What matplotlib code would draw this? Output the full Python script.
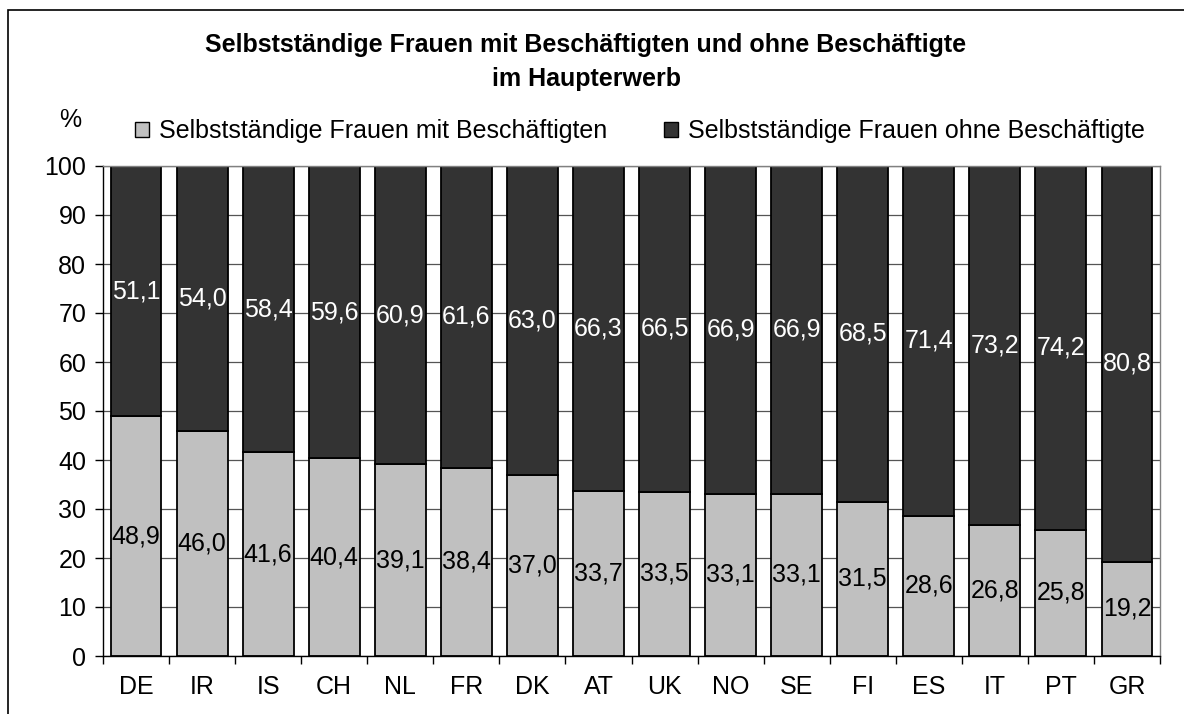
import matplotlib.pyplot as plt
from matplotlib.patches import Rectangle, Patch

plt.rcParams['font.family'] = ['Liberation Sans', 'DejaVu Sans']

countries = ["DE", "IR", "IS", "CH", "NL", "FR", "DK", "AT",
             "UK", "NO", "SE", "FI", "ES", "IT", "PT", "GR"]
mit = [48.9, 46.0, 41.6, 40.4, 39.1, 38.4, 37.0, 33.7,
       33.5, 33.1, 33.1, 31.5, 28.6, 26.8, 25.8, 19.2]
ohne = [51.1, 54.0, 58.4, 59.6, 60.9, 61.6, 63.0, 66.3,
        66.5, 66.9, 66.9, 68.5, 71.4, 73.2, 74.2, 80.8]

light = "#c0c0c0"
dark = "#333333"
fs = 18

fig = plt.figure(figsize=(11.84, 7.14), dpi=100)
ax = fig.add_axes([103 / 1184, 1 - 656 / 714, (1160 - 103) / 1184, (656 - 166) / 714])

# outer frame (cut off at right and bottom like the original)
fig.patches.append(Rectangle((8 / 1184, -0.1), 1.2, 1 - 10 / 714 + 0.1,
                             transform=fig.transFigure, fill=False,
                             edgecolor="black", linewidth=1.2))

x = list(range(len(countries)))
ax.set_axisbelow(True)
ax.yaxis.grid(True, color="#555555", linewidth=0.9)
ax.bar(x, mit, width=0.77, color=light, edgecolor="black", linewidth=1.3)
ax.bar(x, ohne, bottom=mit, width=0.77, color=dark, edgecolor="black", linewidth=1.3)

for i in x:
    ax.text(i, mit[i] / 2, f"{mit[i]:.1f}".replace(".", ","), ha="center", va="center",
            fontsize=fs, color="black")
    ax.text(i, mit[i] + ohne[i] / 2, f"{ohne[i]:.1f}".replace(".", ","), ha="center",
            va="center", fontsize=fs, color="white")

ax.set_xlim(-0.5, len(countries) - 0.5)
ax.set_ylim(0, 100)
ax.set_yticks(range(0, 101, 10))
ax.set_xticks([i - 0.5 for i in range(len(countries) + 1)], minor=False)
ax.set_xticklabels([])
ax.set_xticks(x, minor=True)
ax.set_xticklabels(countries, minor=True)
ax.tick_params(axis="x", which="minor", length=0, labelsize=fs, pad=14)
ax.tick_params(axis="x", which="major", length=6, width=1, direction="out")
ax.tick_params(axis="y", length=6, width=1, labelsize=fs, pad=6)

ax.spines["left"].set_color("black")
ax.spines["bottom"].set_color("black")
ax.spines["top"].set_color("#808080")
ax.spines["right"].set_color("#808080")
for s in ax.spines.values():
    s.set_linewidth(1.0)

fig.text(586 / 1184, 1 - 45 / 714, "Selbstständige Frauen mit Beschäftigten und ohne Beschäftigte",
         ha="center", va="center", fontsize=fs, fontweight="bold")
fig.text(586 / 1184, 1 - 79 / 714, "im Haupterwerb", ha="center", va="center",
         fontsize=fs, fontweight="bold")
fig.text(70 / 1184, 1 - 120 / 714, "%", ha="center", va="center", fontsize=fs)

handles = [Patch(facecolor=light, edgecolor="black", linewidth=1.0),
           Patch(facecolor=dark, edgecolor="black", linewidth=1.0)]
fig.legend(handles, ["Selbstständige Frauen mit Beschäftigten",
                     "Selbstständige Frauen ohne Beschäftigte"],
           loc="center", bbox_to_anchor=(640 / 1184, 1 - 131 / 714), ncol=2,
           frameon=False, fontsize=fs, handlelength=0.55, handleheight=0.55,
           handletextpad=0.4, columnspacing=2.3, borderpad=0)

fig.savefig("out.png", dpi=100)
